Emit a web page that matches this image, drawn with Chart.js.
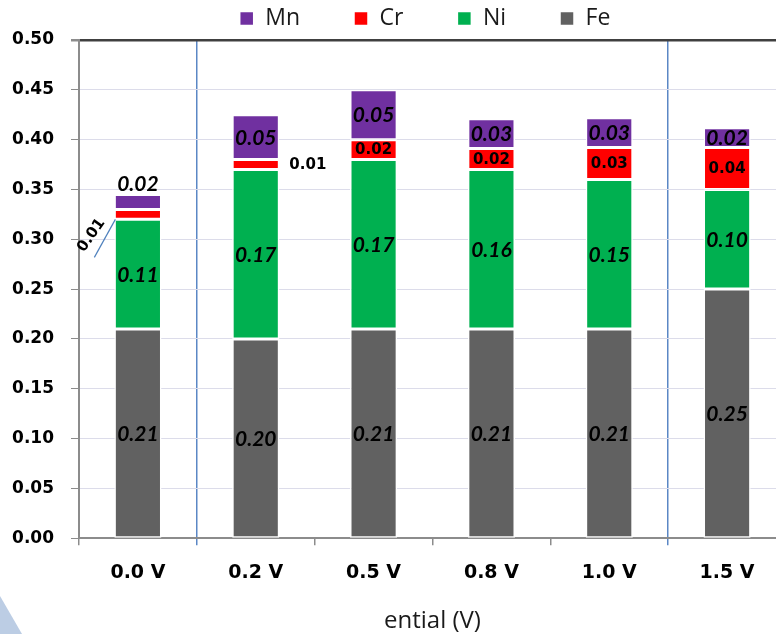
<!DOCTYPE html>
<html><head><meta charset="utf-8">
<script src="https://cdn.jsdelivr.net/npm/chart.js@4/dist/chart.umd.min.js"></script>
<style>
html,body{margin:0;padding:0;overflow:hidden;background:#fff;width:776px;height:634px}
#wrap{position:absolute;left:0;top:0;width:850px;height:634px}
</style></head><body><div id="wrap"><canvas id="c" width="850" height="634"></canvas></div>
<script>
const categories = ['0.0 V', '0.2 V', '0.5 V', '0.8 V', '1.0 V', '1.5 V'];
const feValues = [0.21, 0.20, 0.21, 0.21, 0.21, 0.25];
const niValues = [0.11, 0.17, 0.17, 0.16, 0.15, 0.10];
const crValues = [0.01, 0.01, 0.02, 0.021, 0.032, 0.042];
const mnValues = [0.015, 0.045, 0.05, 0.03, 0.03, 0.02];
const yMin = 0, yMax = 0.5, yStep = 0.05;
const xTitle = 'ential (V)';

const fmt = v => (v + 1e-9).toFixed(2);

const labelPlugin = {
  id: 'segLabels',
  afterLayout(chart) {
    if (chart.legend) { chart.legend.left = 64; }
  },
  afterDatasetsDraw(chart) {
    const ctx = chart.ctx;
    chart.data.datasets.forEach((ds, di) => {
      const meta = chart.getDatasetMeta(di);
      meta.data.forEach((el, i) => {
        const txt = fmt(ds.data[i]);
        const cy = (el.y + el.base) / 2;
        ctx.save();
        ctx.fillStyle = '#000';
        ctx.textAlign = 'center';
        ctx.textBaseline = 'middle';
        if (ds.label === 'Cr') {
          ctx.font = 'bold 15px "DejaVu Sans"';
          if (i === 0) {
            const xl = el.x - el.width / 2;
            ctx.strokeStyle = '#4f81bd';
            ctx.lineWidth = 1.2;
            ctx.beginPath();
            ctx.moveTo(xl + 1, el.base);
            ctx.lineTo(xl - 20, el.base + 38);
            ctx.stroke();
            ctx.translate(xl - 23, el.base + 16);
            ctx.rotate(-55 * Math.PI / 180);
            ctx.fillText(txt, 0, 0);
          } else if (i === 1) {
            ctx.textAlign = 'left';
            ctx.fillText(txt, el.x + el.width / 2 + 10, cy + 1);
          } else {
            ctx.fillText(txt, el.x, cy + 1);
          }
        } else {
          ctx.font = 'italic bold 21px Lato';
          let y = cy;
          if (ds.label === 'Mn' && i === 0) y = el.y - 11;
          ctx.fillText(txt, el.x, y + 1);
        }
        ctx.restore();
      });
    });
  },
  afterDraw(chart) {
    const ctx = chart.ctx;
    ctx.save();
    ctx.fillStyle = '#bccde4';
    ctx.beginPath();
    ctx.moveTo(0, 596); ctx.lineTo(22, 634); ctx.lineTo(0, 634); ctx.closePath();
    ctx.fill();
    ctx.restore();
  }
};

const mk = (label, data, color) => ({
  label, data, backgroundColor: color, borderColor: '#ffffff', borderWidth: 1.5,
  borderSkipped: false, barPercentage: 0.4, categoryPercentage: 1.0
});

new Chart(document.getElementById('c'), {
  type: 'bar',
  data: {
    labels: categories,
    datasets: [
      mk('Fe', feValues, '#616161'),
      mk('Ni', niValues, '#00b050'),
      mk('Cr', crValues, '#ff0000'),
      mk('Mn', mnValues, '#7030a0')
    ]
  },
  options: {
    responsive: false,
    animation: false,
    devicePixelRatio: 1,
    layout: { padding: { left: 0, right: 64, top: -47, bottom: 0 } },
    plugins: {
      legend: {
        position: 'top',
        reverse: true,
        labels: {
          boxWidth: 14, boxHeight: 14, padding: 54,
          font: { family: '"Open Sans"', size: 23 }, color: '#1a1a1a'
        }
      },
      tooltip: { enabled: false }
    },
    scales: {
      x: {
        stacked: true,
        grid: {
          offset: true,
          color: c => (c.index === 1 || c.index === 5) ? '#5b87c5' : 'rgba(0,0,0,0)',
          tickColor: c => (c.index === 1 || c.index === 5) ? '#5b87c5' : '#8c8c8c',
          lineWidth: 1.5,
          tickLength: 7
        },
        border: { color: '#8c8c8c', width: 2 },
        ticks: { font: { family: '"DejaVu Sans"', size: 19, weight: 'bold' }, color: '#000', padding: 16, maxRotation: 0 },
        title: {
          display: true, text: xTitle, color: '#1a1a1a',
          font: { family: '"Open Sans"', size: 24, lineHeight: 1.0 },
          padding: { top: 9, bottom: 1 }
        }
      },
      y: {
        stacked: true,
        min: yMin, max: yMax,
        afterFit: s => { s.width = 79; },
        grid: {
          color: c => (c.tick && c.tick.value > 0.499) ? '#404040' : '#dcdcea',
          lineWidth: c => (c.tick && c.tick.value > 0.499) ? 2.5 : 1,
          tickColor: '#8c8c8c',
          tickLength: 8
        },
        border: { color: '#8c8c8c', width: 2 },
        ticks: {
          stepSize: yStep,
          padding: 17,
          color: '#000',
          font: { family: '"DejaVu Sans"', size: 17, weight: 'bold' },
          callback: v => Number(v).toFixed(2)
        }
      }
    }
  },
  plugins: [labelPlugin]
});
</script></body></html>
